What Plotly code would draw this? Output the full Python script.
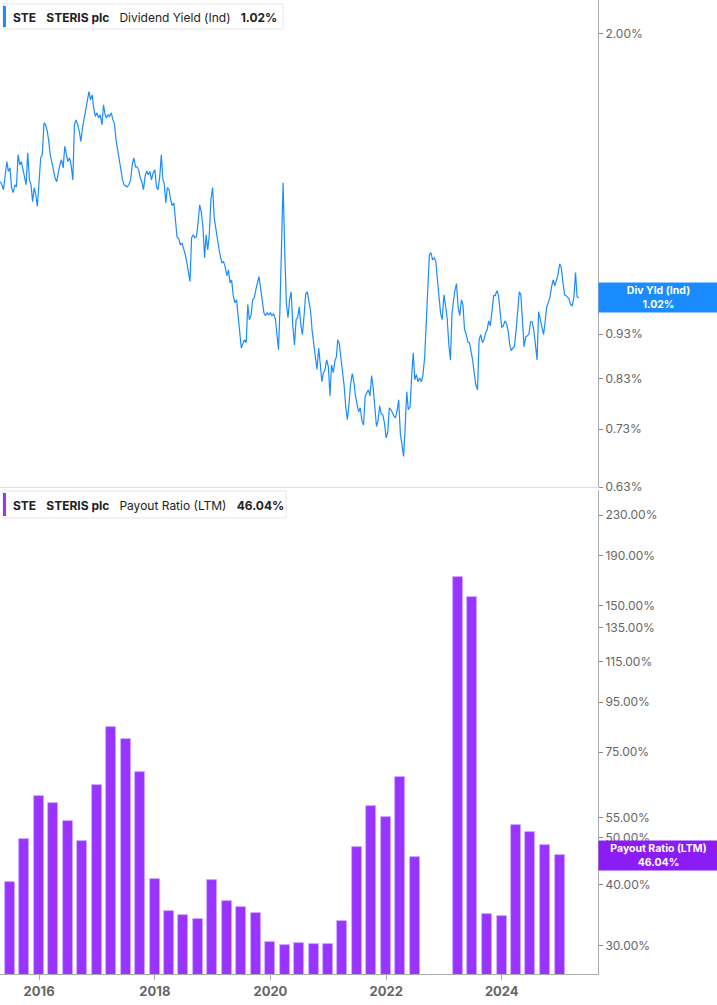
import math
import plotly.graph_objects as go
from plotly.subplots import make_subplots

# dividend yield (%), read on the 1st, 11th and 21st of each month
yld_2015 = [1.372, 1.361, 1.344, 1.396, 1.444, 1.408, 1.421, 1.351, 1.334, 1.361, 1.354, 1.469,
            1.432, 1.444, 1.414, 1.385, 1.361, 1.477, 1.378, 1.361, 1.304, 1.351, 1.327, 1.288]
yld_2016 = [1.361, 1.458, 1.469, 1.594, 1.586, 1.562, 1.526, 1.469, 1.443, 1.410, 1.385, 1.372,
            1.408, 1.432, 1.451, 1.421, 1.501, 1.469, 1.444, 1.458, 1.432, 1.378, 1.586, 1.606,
            1.586, 1.559, 1.520, 1.574, 1.606, 1.639, 1.690, 1.726, 1.690, 1.712, 1.656, 1.620]
yld_2017 = [1.635, 1.614, 1.627, 1.586, 1.669, 1.627, 1.614, 1.627, 1.620, 1.635, 1.606, 1.590,
            1.526, 1.488, 1.458, 1.421, 1.378, 1.361, 1.358, 1.354, 1.361, 1.378, 1.432, 1.458,
            1.425, 1.425, 1.414, 1.385, 1.372, 1.344, 1.392, 1.410, 1.396, 1.408, 1.378, 1.403]
yld_2018 = [1.414, 1.355, 1.344, 1.390, 1.469, 1.378, 1.368, 1.300, 1.351, 1.344, 1.310, 1.290,
            1.300, 1.229, 1.192, 1.186, 1.168, 1.174, 1.159, 1.142, 1.119, 1.082, 1.064, 1.189,
            1.198, 1.189, 1.193, 1.235, 1.293, 1.271, 1.223, 1.130, 1.198, 1.153, 1.198, 1.310]
yld_2019 = [1.351, 1.251, 1.214, 1.183, 1.153, 1.130, 1.116, 1.119, 1.105, 1.079, 1.096, 1.060,
            1.068, 1.026, 1.008, 1.015, 0.970, 0.941, 0.898, 0.908, 0.917, 0.910, 1.003, 0.965,
            0.977, 1.015, 1.021, 1.042, 1.063, 1.077, 1.042, 1.008, 0.982, 0.975, 0.982, 0.977]
yld_2020 = [0.982, 0.975, 0.980, 0.967, 0.922, 0.894, 0.990, 1.153, 1.368, 1.139, 1.003, 0.970,
            1.015, 1.036, 0.953, 0.905, 0.965, 0.970, 0.997, 0.953, 0.929, 0.977, 1.031, 1.036,
            1.008, 0.985, 0.936, 0.908, 0.871, 0.850, 0.898, 0.867, 0.824, 0.843, 0.850, 0.871]
yld_2021 = [0.856, 0.795, 0.860, 0.843, 0.869, 0.878, 0.917, 0.908, 0.876, 0.841, 0.814, 0.771,
            0.748, 0.777, 0.818, 0.841, 0.824, 0.795, 0.777, 0.763, 0.771, 0.746, 0.738, 0.793,
            0.801, 0.807, 0.794, 0.837, 0.811, 0.767, 0.735, 0.746, 0.775, 0.759, 0.757, 0.742]
yld_2022 = [0.714, 0.725, 0.771, 0.767, 0.759, 0.754, 0.752, 0.765, 0.787, 0.720, 0.702, 0.681,
            0.733, 0.803, 0.767, 0.773, 0.835, 0.887, 0.828, 0.839, 0.824, 0.832, 0.824, 0.837,
            0.876, 0.960, 1.055, 1.139, 1.145, 1.124, 1.130, 1.119, 1.068, 1.028, 0.980, 0.965]
yld_2023 = [1.028, 1.000, 0.970, 0.905, 0.871, 0.982, 1.015, 1.039, 1.058, 0.995, 0.975, 1.015,
            1.003, 0.941, 0.931, 0.912, 0.910, 0.894, 0.871, 0.843, 0.818, 0.807, 0.917, 0.929,
            0.910, 0.917, 0.933, 0.941, 0.962, 0.950, 0.985, 1.026, 1.026, 1.039, 1.028, 0.990]
yld_2024 = [0.946, 0.950, 0.962, 0.955, 0.936, 0.905, 0.892, 0.898, 0.901, 0.941, 0.990, 1.036,
            1.028, 0.953, 0.901, 0.924, 0.926, 0.931, 0.960, 0.960, 0.941, 0.905, 0.871, 0.985,
            0.967, 0.946, 0.929, 0.960, 0.997, 1.008, 1.023, 1.050, 1.068, 1.052, 1.066, 1.082]
yld_2025 = [1.113, 1.102, 1.063, 1.028, 1.026, 1.021, 1.018, 1.003, 1.000, 1.023, 1.088, 1.023,
            1.020]

sample_days = [1, 11, 21]
yield_by_year = [(2015, 5, yld_2015), (2016, 1, yld_2016), (2017, 1, yld_2017), (2018, 1, yld_2018),
                 (2019, 1, yld_2019), (2020, 1, yld_2020), (2021, 1, yld_2021), (2022, 1, yld_2022),
                 (2023, 1, yld_2023), (2024, 1, yld_2024), (2025, 1, yld_2025)]

yield_dates = []
yield_values = []
for year, first_month, vals in yield_by_year:
    i = 0
    for m in range(first_month, 13):
        for d in sample_days:
            if i < len(vals):
                yield_dates.append(f"{year}-{m:02d}-{d:02d}")
                yield_values.append(vals[i])
                i += 1

# payout ratio (LTM, %), quarter ends; 2022 Q3/Q4 not shown on the log scale
quarter_dates = ["2015-06-30", "2015-09-30", "2015-12-31", "2016-03-31", "2016-06-30", "2016-09-30",
                 "2016-12-31", "2017-03-31", "2017-06-30", "2017-09-30", "2017-12-31", "2018-03-31",
                 "2018-06-30", "2018-09-30", "2018-12-31", "2019-03-31", "2019-06-30", "2019-09-30",
                 "2019-12-31", "2020-03-31", "2020-06-30", "2020-09-30", "2020-12-31", "2021-03-31",
                 "2021-06-30", "2021-09-30", "2021-12-31", "2022-03-31", "2022-06-30", "2022-09-30",
                 "2022-12-31", "2023-03-31", "2023-06-30", "2023-09-30", "2023-12-31", "2024-03-31",
                 "2024-06-30", "2024-09-30", "2024-12-31"]
payout_values = [40.6, 49.8, 60.8, 58.8, 54.1, 49.2, 64.2, 84.6, 79.7, 68.2, 41.2, 35.4,
                 34.7, 34.1, 40.9, 37.1, 36.1, 35.1, 30.6, 30.1, 30.4, 30.3, 30.3, 33.7,
                 47.8, 58.2, 55.2, 66.8, 45.6, None, None, 171.5, 156.5, 34.9, 34.6, 53.0,
                 51.4, 48.4, 46.04]

yield_ticks = [0.63, 0.73, 0.83, 0.93, 1.00, 2.00]
payout_ticks = [30, 40, 50, 55, 75, 95, 115, 135, 150, 190, 230]

BLUE = "#1a8cff"
PURPLE = "#9933ff"
FONT = "Inter"

fig = make_subplots(rows=2, cols=1, shared_xaxes=True, vertical_spacing=0.003)

fig.add_trace(go.Scatter(x=yield_dates, y=yield_values, mode="lines",
                         line=dict(color=BLUE, width=1.2), showlegend=False), row=1, col=1)
fig.add_trace(go.Bar(x=quarter_dates, y=payout_values, width=63 * 86400000,
                     marker=dict(color=PURPLE, line=dict(color="#d2adff", width=0.8)),
                     showlegend=False), row=2, col=1)

axis_font = dict(family=FONT, size=12, color="#666666")

fig.update_layout(
    width=717, height=1005,
    margin=dict(l=0, r=119, t=0, b=31),
    plot_bgcolor="white", paper_bgcolor="white",
    font=dict(family=FONT),
    bargap=0,
    xaxis=dict(range=["2015-04-29", "2025-08-31"], showticklabels=False, showgrid=False,
               showline=True, linecolor="#dddddd", ticks="", zeroline=False),
    xaxis2=dict(range=["2015-04-29", "2025-08-31"], tick0="2016-01-01", dtick="M24",
                tickformat="%Y", showgrid=False, showline=True, linecolor="#aaaaaa",
                ticks="outside", ticklen=5, tickcolor="#aaaaaa", zeroline=False,
                tickfont=dict(family=FONT, size=13, color="#666666", weight="bold")),
    yaxis=dict(domain=[0.5, 1.0], type="log", range=[math.log10(0.63), math.log10(2.18)],
               side="right", tickvals=yield_ticks, ticktext=[f"{v:.2f}%" for v in yield_ticks],
               showgrid=False, zeroline=False, showline=True, linecolor="#aaaaaa",
               ticks="outside", ticklen=4, tickcolor="#888888", tickfont=axis_font),
    yaxis2=dict(domain=[0.0, 0.4969], type="log", range=[math.log10(26.24), math.log10(259.2)],
                side="right", tickvals=payout_ticks, ticktext=[f"{v:.2f}%" for v in payout_ticks],
                showgrid=False, zeroline=False, showline=True, linecolor="#aaaaaa",
                ticks="outside", ticklen=4, tickcolor="#888888", tickfont=axis_font),
)

# legend-style header boxes
def header(y_top, y_bot, x_right, color, label):
    fig.add_shape(type="rect", xref="paper", yref="paper", x0=0.005, x1=x_right,
                  y0=y_bot, y1=y_top, line=dict(color="#e6e6e6", width=1), fillcolor="white", layer="above")
    fig.add_shape(type="rect", xref="paper", yref="paper", x0=0.005, x1=0.0100,
                  y0=y_bot + 0.002, y1=y_top - 0.002, line=dict(width=0), fillcolor=color, layer="above")
    fig.add_annotation(xref="paper", yref="paper", x=0.0184, y=(y_top + y_bot) / 2 - 0.0008,
                       xanchor="left", yanchor="middle", showarrow=False, text=label,
                       font=dict(family=FONT, size=12, color="#222222"))

sp = "\u00a0\u00a0\u00a0"
header(0.9959, 0.9702, 0.4732, BLUE,
       f"<b>STE</b>{sp}<b>STERIS plc</b>{sp}Dividend Yield (Ind){sp}<b>1.02%</b>")
header(0.4959, 0.4682, 0.4783, PURPLE,
       f"<b>STE</b>{sp}<b>STERIS plc</b>{sp}Payout Ratio (LTM){sp}<b>46.04%</b>")

# last-value tags on the right axis
fig.add_annotation(xref="paper", yref="y", x=1.0, y=math.log10(yield_values[-1]),
                   xanchor="left", yanchor="middle", showarrow=False,
                   text="<b>Div Yld (Ind)<br>1.02%</b>", bgcolor=BLUE, width=117, height=27,
                   borderpad=1, align="center", font=dict(family=FONT, size=10.5, color="white"))
fig.add_annotation(xref="paper", yref="y2", x=1.0, y=math.log10(payout_values[-1]),
                   xanchor="left", yanchor="middle", showarrow=False,
                   text="<b>Payout Ratio (LTM)<br>46.04%</b>", bgcolor="#8c1cf5", width=117, height=27,
                   borderpad=1, align="center", font=dict(family=FONT, size=10.5, color="white"))

fig.write_html("out.html", config={"displayModeBar": False},
               post_script="document.body.style.margin='0px';")
